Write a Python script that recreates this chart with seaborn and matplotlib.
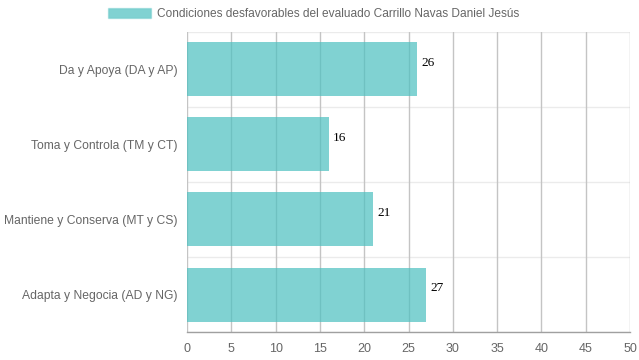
import numpy as np
import pandas as pd
import matplotlib.pyplot as plt
from matplotlib.ticker import FixedLocator
from matplotlib.patches import Patch
import seaborn as sns

categories = ['Da y Apoya (DA y AP)', 'Toma y Controla (TM y CT)',
              'Mantiene y Conserva (MT y CS)', 'Adapta y Negocia (AD y NG)']
values = [26, 16, 21, 27]
series_name = 'Condiciones desfavorables del evaluado Carrillo Navas Daniel Jesús'
x_ticks = list(range(0, 51, 5))

df = pd.DataFrame({'categoria': categories, 'valor': values})

sns.set_style('white')
plt.rcParams['font.family'] = ['Liberation Sans', 'DejaVu Sans']

fig = plt.figure(figsize=(6.39, 3.6), dpi=100)
ax = fig.add_axes([187 / 639, 28 / 360, 443 / 639, 300 / 360])

bar_color = (75 / 255, 192 / 255, 192 / 255, 0.7)
sns.barplot(data=df, y='categoria', x='valor', orient='h', color=bar_color,
            saturation=1, width=0.72, ax=ax, zorder=2)
for p in ax.patches:
    p.set_facecolor(bar_color)
    p.set_edgecolor('none')

ax.set_xlim(0, 50)
ax.set_ylim(len(categories) - 0.5, -0.5)
ax.set_xticks(x_ticks)
ax.set_xticklabels([str(t) for t in x_ticks])

# grid: vertical lines at x ticks, horizontal lines between categories
for t in x_ticks:
    ax.axvline(t, color='#c4c4c4', lw=1, zorder=1)
ax.yaxis.set_minor_locator(FixedLocator(np.arange(-0.5, len(categories), 1)))
ax.grid(axis='y', which='minor', color='#ebebeb', lw=1, zorder=0)
ax.tick_params(axis='y', which='minor', length=11, color='#ebebeb', width=1)
ax.tick_params(axis='y', which='major', length=0, pad=7, labelsize=8.7, labelcolor='#666666')
ax.tick_params(axis='x', which='major', length=8, color='#c4c4c4', width=1,
               labelsize=9, labelcolor='#666666', pad=0)

for s in ['top', 'right', 'left']:
    ax.spines[s].set_visible(False)
ax.spines['bottom'].set_color('#a0a0a0')
ax.spines['bottom'].set_linewidth(1)

ax.set_xlabel('')
ax.set_ylabel('')

# value labels just right of each bar, slightly above centre
for i, v in enumerate(values):
    ax.annotate(str(v), xy=(v, i), xytext=(3, 4.5), textcoords='offset points',
                ha='left', va='center', fontsize=9.5, family='Liberation Serif',
                color='black')

handle = Patch(facecolor=bar_color, edgecolor=(75 / 255, 192 / 255, 192 / 255, 0.3), lw=1)
fig.legend([handle], [series_name], loc='center', bbox_to_anchor=(0.4906, 1 - 14 / 360),
           frameon=False, fontsize=8.6, handlelength=3.6, handleheight=1.0,
           handletextpad=0.55, labelcolor='#666666')

fig.savefig('out.png', dpi=100)
plt.close(fig)
